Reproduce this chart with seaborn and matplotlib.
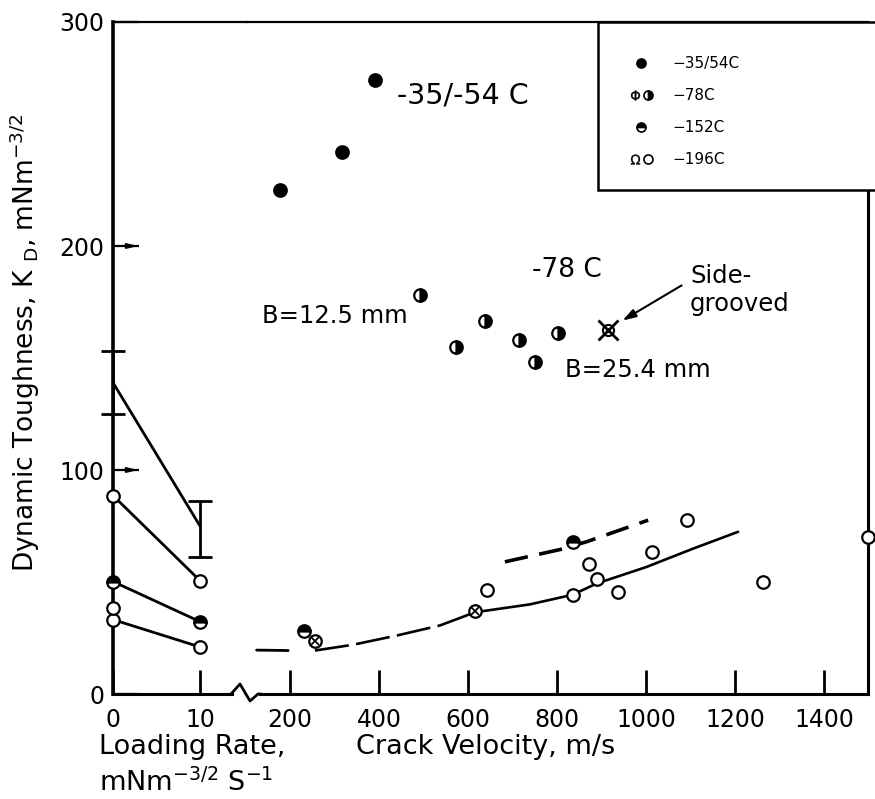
import matplotlib
matplotlib.use("Agg")
import matplotlib.pyplot as plt
import seaborn as sns
from matplotlib.lines import Line2D
from matplotlib.patches import Rectangle, FancyArrowPatch
from matplotlib.legend_handler import HandlerTuple

sns.set_theme(style="ticks")
plt.rcParams['font.family'] = ['DejaVu Sans']
plt.rcParams['mathtext.fontset'] = 'dejavusans'
for key in ("text.color", "axes.labelcolor", "xtick.color", "ytick.color", "axes.edgecolor"):
    plt.rcParams[key] = "black"

# ---------------- data ----------------
# Loading-rate panel (x = loading rate, mNm^-3/2 s^-1)
load_rate = [0, 10]
k_band_mean = [139, 75]          # line with scatter bands (no markers)
k_band_lo = [125, 61]
k_band_hi = [153, 86]
k_lr_78 = [88.6, 50.6]
k_lr_152 = [50.2, 32.3]
k_lr_196 = [33.2, 21.0]
lr_196_extra_x = [0]
lr_196_extra_k = [38.5]

# Crack-velocity panel (x = crack velocity, m/s)
v_3554 = [177, 318, 391]
k_3554 = [225, 242, 274]
v_78 = [492, 573, 638, 715, 751, 802]
k_78 = [178, 155, 166.5, 158, 148, 161]
v_78_sg = [915]
k_78_sg = [162.7]
v_152 = [231, 837]
k_152 = [28, 68]
v_cross = [256, 616]
k_cross = [23.6, 37]
v_196 = [643, 835, 872, 889, 938, 1013, 1092, 1264, 1500]
k_196 = [46.3, 44.3, 58.2, 51.2, 45.5, 63.4, 77.6, 50, 70]

# trend curves
lo_stub_v = [125, 196]
lo_stub_k = [19.6, 19.4]
lo_dash_v = [256, 342, 440, 537, 616]
lo_dash_k = [19.4, 22, 26.1, 30.6, 36.5]
lo_solid_v = [616, 739, 835, 889, 1001, 1106, 1207]
lo_solid_k = [36.5, 40, 44.3, 49.3, 56.7, 64.9, 72.4]
up_dash_v = [683, 807, 867, 1005]
up_dash_k = [59, 64.5, 68, 77.6]

y_ticks = [0, 100, 200, 300]
lr_ticks = [0, 10]
v_ticks = [200, 400, 600, 800, 1000, 1200, 1400]
legend_labels = ["\u221235/54C", "\u221278C", "\u2212152C", "\u2212196C"]

# ---------------- figure / layout ----------------
W, H = 875, 799
fig = plt.figure(figsize=(W / 100, H / 100), dpi=100)
fig.patch.set_facecolor("white")


def fx(px):
    return px / W


def fy(py):
    return 1 - py / H


AX_L, AX_BRK, AX_R = 113, 247, 868
AX_T, AX_B = 22, 694
ax1 = fig.add_axes([fx(AX_L), fy(AX_B), fx(AX_BRK - AX_L), (AX_B - AX_T) / H])
ax2 = fig.add_axes([fx(AX_BRK), fy(AX_B), fx(AX_R - AX_BRK), (AX_B - AX_T) / H], sharey=ax1)
for ax in (ax1, ax2):
    ax.set_facecolor("white")

ax1.set_xlim(0, 15.4)
ax2.set_xlim(103.4, 1499)
ax1.set_ylim(0, 300)

TXT = 17
mk = dict(linestyle="", marker="o", markersize=9, markeredgewidth=1.6,
          markeredgecolor="black", clip_on=False, zorder=5)

# ---- loading-rate panel ----
ax1.errorbar(load_rate, k_band_mean,
             yerr=[[m - lo for m, lo in zip(k_band_mean, k_band_lo)],
                   [hi - m for m, hi in zip(k_band_mean, k_band_hi)]],
             fmt="none", ecolor="black", elinewidth=2, capsize=8.5, capthick=2,
             clip_on=False, zorder=4)
sns.lineplot(x=load_rate, y=k_band_mean, ax=ax1, color="black", linewidth=2,
             estimator=None, sort=False)
for ks in (k_lr_78, k_lr_152, k_lr_196):
    sns.lineplot(x=load_rate, y=ks, ax=ax1, color="black", linewidth=2, estimator=None, sort=False)
sns.lineplot(x=load_rate, y=k_lr_78, ax=ax1, estimator=None, sort=False,
             markerfacecolor="white", **mk)
sns.lineplot(x=load_rate, y=k_lr_152, ax=ax1, estimator=None, sort=False,
             fillstyle="top", markerfacecolor="black", markerfacecoloralt="white", **mk)
sns.lineplot(x=load_rate, y=k_lr_196, ax=ax1, estimator=None, sort=False,
             markerfacecolor="white", **mk)
sns.lineplot(x=lr_196_extra_x, y=lr_196_extra_k, ax=ax1, estimator=None, sort=False,
             markerfacecolor="white", **mk)

# ---- crack-velocity panel ----
sns.lineplot(x=lo_stub_v, y=lo_stub_k, ax=ax2, color="black", linewidth=2,
             estimator=None, sort=False)
sns.lineplot(x=lo_dash_v, y=lo_dash_k, ax=ax2, color="black", linewidth=1.9, estimator=None,
             sort=False, linestyle=(0, (13, 2.8)))
sns.lineplot(x=lo_solid_v, y=lo_solid_k, ax=ax2, color="black", linewidth=1.9,
             estimator=None, sort=False)
sns.lineplot(x=up_dash_v, y=up_dash_k, ax=ax2, color="black", linewidth=2.6, estimator=None,
             sort=False, linestyle=(0, (6.5, 3.2)))

sns.lineplot(x=v_3554, y=k_3554, ax=ax2, estimator=None, sort=False,
             markerfacecolor="black", **mk)
sns.lineplot(x=v_78, y=k_78, ax=ax2, estimator=None, sort=False,
             fillstyle="right", markerfacecolor="black", markerfacecoloralt="white", **mk)
sns.lineplot(x=v_152, y=k_152, ax=ax2, estimator=None, sort=False,
             fillstyle="top", markerfacecolor="black", markerfacecoloralt="white", **mk)
sns.lineplot(x=v_196, y=k_196, ax=ax2, estimator=None, sort=False,
             markerfacecolor="white", **mk)
sns.lineplot(x=v_cross, y=k_cross, ax=ax2, estimator=None, sort=False,
             markerfacecolor="white", **mk)
sns.lineplot(x=v_cross, y=k_cross, ax=ax2, estimator=None, sort=False, linestyle="", marker="x",
             markersize=6, markeredgewidth=1.3, markeredgecolor="black", zorder=6)
sns.lineplot(x=v_78_sg, y=k_78_sg, ax=ax2, estimator=None, sort=False, linestyle="", marker="o",
             markersize=8, markeredgewidth=1.5, markeredgecolor="black",
             markerfacecolor="white", zorder=5)
sns.lineplot(x=v_78_sg, y=k_78_sg, ax=ax2, estimator=None, sort=False, linestyle="", marker="x",
             markersize=15, markeredgewidth=2, markeredgecolor="black", zorder=6)

# ---------------- axes styling ----------------
ax1.set_yticks(y_ticks)
ax1.set_yticklabels([str(t) for t in y_ticks])
ax1.set_xticks(lr_ticks)
ax1.set_xticklabels([str(t) for t in lr_ticks])
ax2.set_xticks(v_ticks)
ax2.set_xticklabels([str(t) for t in v_ticks])

ax1.tick_params(axis="y", direction="in", length=19, width=1.6, pad=6, labelsize=TXT, colors="black")
ax1.tick_params(axis="x", direction="in", length=17, width=2, pad=10, labelsize=TXT, colors="black")
ax2.tick_params(axis="x", direction="in", length=17, width=2, pad=10, labelsize=TXT, colors="black")
ax2.tick_params(axis="y", left=False, labelleft=False, right=False)

for ax in (ax1, ax2):
    for s in ax.spines.values():
        s.set_color("black")
    ax.spines["top"].set_linewidth(1.6)
    ax.spines["bottom"].set_linewidth(2.2)
    ax.set_xlabel("")
    ax.set_ylabel("")
ax1.spines["left"].set_linewidth(2.6)
ax1.spines["right"].set_visible(False)
ax2.spines["left"].set_visible(False)
ax2.spines["right"].set_linewidth(2.2)
ax2.spines["right"].set_bounds(0, 225)
ax1.spines["bottom"].set_bounds(0, 13.7)
ax2.spines["bottom"].set_bounds(132.6, 1499)

# arrow heads on the y ticks at 100 and 200
for t in (100, 200):
    ax1.annotate("", xy=(2.9, t), xytext=(0, t),
                 arrowprops=dict(arrowstyle="-|>,head_length=0.5,head_width=0.12",
                                 color="black", lw=1.4, shrinkA=0, shrinkB=0))

# axis break squiggle
brk = Line2D([fx(231), fx(240), fx(250), fx(258), fx(261)],
             [fy(694), fy(684), fy(701), fy(694), fy(694)],
             transform=fig.transFigure, color="black", lw=2, solid_joinstyle="round")
fig.add_artist(brk)

# ---------------- text ----------------
fig.text(fx(25), fy(343), r"Dynamic Toughness, K $_{\mathrm{D}}$, mNm$^{-3/2}$",
         rotation=90, ha="center", va="center", fontsize=19)
fig.text(fx(99), fy(747), "Loading Rate,", ha="left", va="center", fontsize=19.5)
fig.text(fx(99), fy(783), r"mNm$^{-3/2}$ S$^{-1}$", ha="left", va="center", fontsize=19.5)
fig.text(fx(356), fy(747), "Crack Velocity, m/s", ha="left", va="center", fontsize=19.5)

fig.text(fx(397), fy(95), "-35/-54 C", ha="left", va="center", fontsize=20.5)
fig.text(fx(532), fy(270), "-78 C", ha="left", va="center", fontsize=19)
fig.text(fx(262), fy(316), "B=12.5 mm", ha="left", va="center", fontsize=17.5)
fig.text(fx(565), fy(370), "B=25.4 mm", ha="left", va="center", fontsize=17.5)
fig.text(fx(690), fy(276), "Side-", ha="left", va="center", fontsize=17.5)
fig.text(fx(690), fy(304), "grooved", ha="left", va="center", fontsize=17.5)
fig.add_artist(FancyArrowPatch(
    (fx(684), fy(284)), (fx(620), fy(322)), transform=fig.transFigure,
    arrowstyle="-|>,head_length=8,head_width=2.5", color="black", lw=1.5))

# ---------------- legend ----------------
frame = Rectangle((fx(598), fy(190)), fx(900 - 598), (190 - 22) / H, transform=fig.transFigure,
                  facecolor="white", edgecolor="black", lw=1.8, zorder=10, clip_on=False)
fig.add_artist(frame)

lk = dict(linestyle="", marker="o", markersize=6.5, markeredgecolor="black", markeredgewidth=1.2)
h_3554 = Line2D([], [], markerfacecolor="black", **lk)
h_78a = Line2D([], [], linestyle="", marker=r"$\Phi$", markersize=7, markeredgecolor="black",
               markerfacecolor="black", markeredgewidth=0.3)
h_78b = Line2D([], [], fillstyle="right", markerfacecolor="black", markerfacecoloralt="white", **lk)
h_152 = Line2D([], [], fillstyle="top", markerfacecolor="black", markerfacecoloralt="white", **lk)
h_196a = Line2D([], [], linestyle="", marker=r"$\Omega$", markersize=7, markeredgecolor="black",
                markerfacecolor="black", markeredgewidth=0.3)
h_196b = Line2D([], [], markerfacecolor="white", **lk)
leg = fig.legend([h_3554, (h_78a, h_78b), h_152, (h_196a, h_196b)], legend_labels,
                 handler_map={tuple: HandlerTuple(ndivide=None, pad=0.1)},
                 loc="upper left", bbox_to_anchor=(fx(630), fy(56)), frameon=False,
                 fontsize=11, handlelength=1.5, handletextpad=1.3, labelspacing=1.12,
                 borderpad=0, borderaxespad=0)
leg.set_zorder(11)

fig.savefig("out.png", dpi=100, facecolor="white")
